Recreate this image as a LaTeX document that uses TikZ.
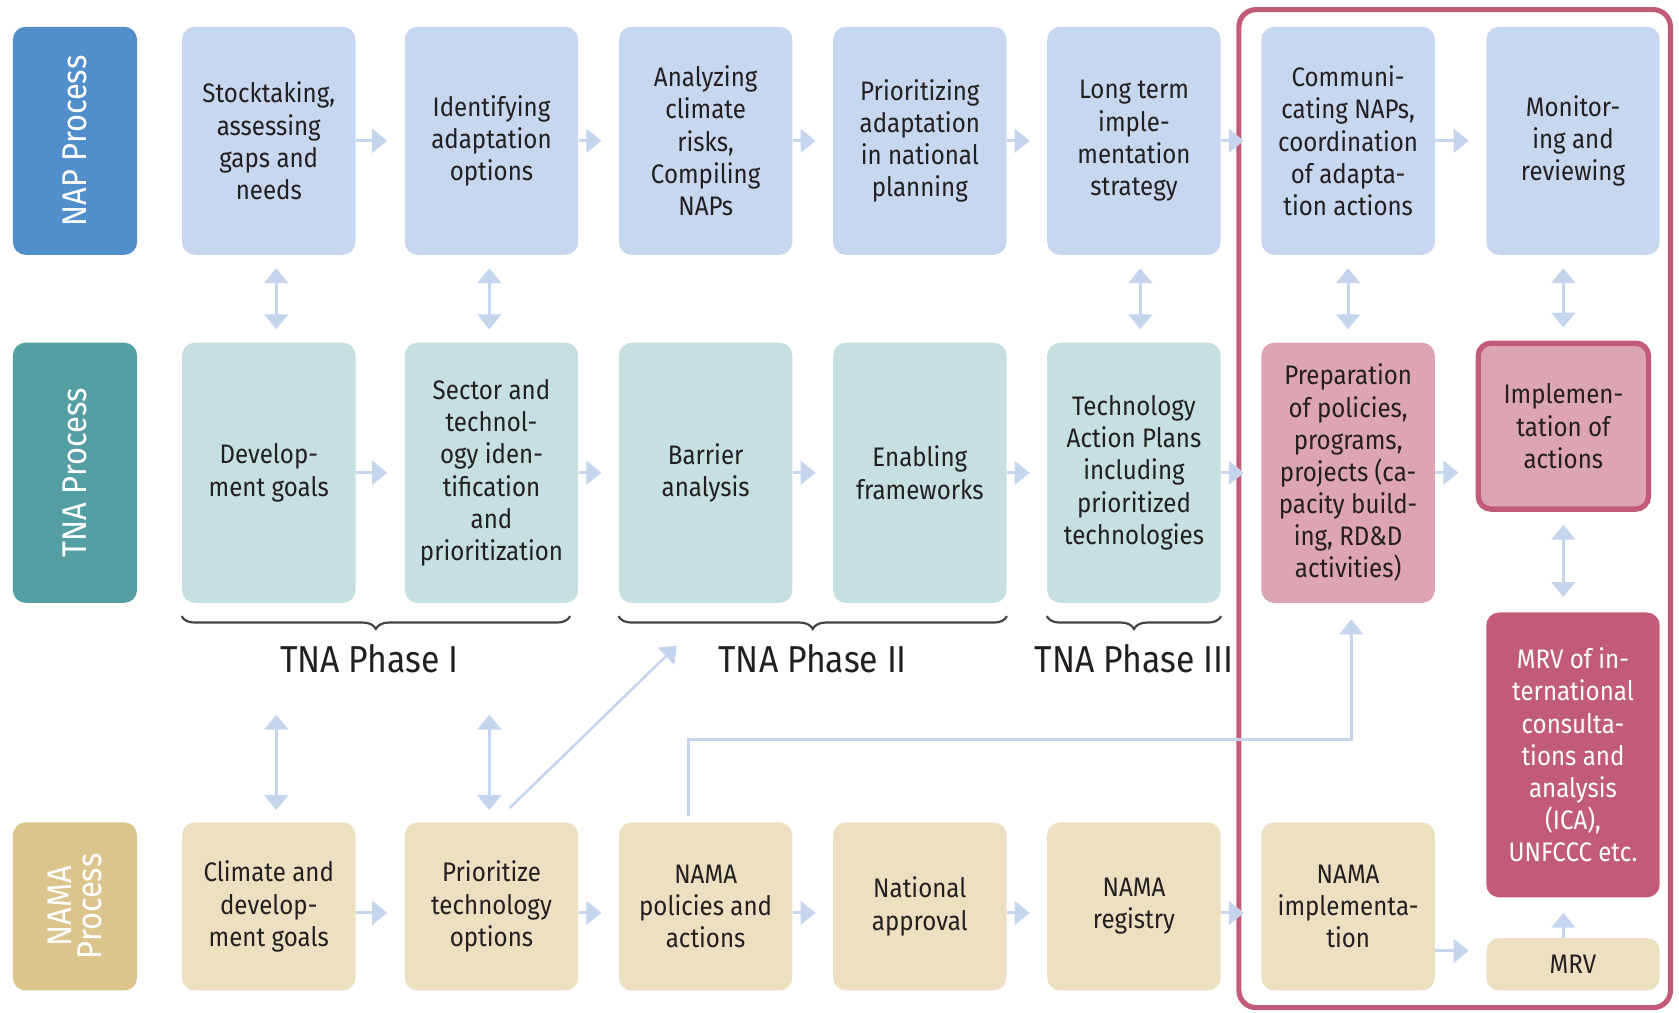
\documentclass[tikz,border=0pt]{standalone}
\usepackage{fontspec}
\setmainfont{Fira Sans}[FakeStretch=0.9]
\usetikzlibrary{arrows.meta,decorations.pathreplacing}

\definecolor{napblue}{RGB}{80,142,204}
\definecolor{naplight}{RGB}{199,215,239}
\definecolor{tnateal}{RGB}{84,159,163}
\definecolor{tnalight}{RGB}{198,223,224}
\definecolor{namatan}{RGB}{220,196,141}
\definecolor{namalight}{RGB}{237,224,193}
\definecolor{actpink}{RGB}{221,164,177}
\definecolor{actred}{RGB}{194,91,120}
\definecolor{flowblue}{RGB}{197,213,238}
\definecolor{txtdark}{RGB}{35,31,32}

\tikzset{
  stepbox/.style={rounded corners=6pt, minimum width=81pt, inner sep=0pt, align=center, text=txtdark, font=\fontsize{12.5}{15}\selectfont},
  naprow/.style={stepbox, fill=naplight, minimum height=106.5pt},
  tnarow/.style={stepbox, fill=tnalight, minimum height=121.5pt},
  namarow/.style={stepbox, fill=namalight, minimum height=78.5pt},
  procbox/.style={rounded corners=6pt, minimum width=58pt, inner sep=0pt},
  proctext/.style={rotate=90, text=white, align=center, font=\fontsize{16}{14}\selectfont},
  flow/.style={draw=flowblue, line width=1.5pt, -{Triangle[width=11pt,length=7pt]}},
  dflow/.style={draw=flowblue, line width=1.5pt, {Triangle[width=11pt,length=7pt]}-{Triangle[width=11pt,length=7pt]}},
  thinflow/.style={draw=flowblue, line width=1.2pt, -{Triangle[width=11pt,length=7pt]}},
  phasebrace/.style={draw=txtdark!85, line width=1pt, decorate, decoration={brace, mirror, amplitude=6pt}},
  phasetext/.style={text=txtdark, font=\fontsize{17.5}{20}\selectfont},
  actframe/.style={draw=actred, line width=2.4pt, rounded corners=8pt}
}

\begin{document}
\begin{tikzpicture}[x=0.5pt,y=0.5pt,yscale=-1,xscale=1]
\useasboundingbox (0,0) rectangle (1568,946);
% note: yscale=-1, so a positive yshift in a coordinate moves down

%Shape: process labels
\node[procbox, fill=napblue, minimum height=106.5pt] (nap) at (70,131.5) {};
\node[proctext] (naptext) at (nap) {NAP Process};
\node[procbox, fill=tnateal, minimum height=121.5pt] (tna) at (70,441.5) {};
\node[proctext] (tnatext) at (tna) {TNA Process};
\node[procbox, fill=namatan, minimum height=78.5pt] (nama) at (70,846.5) {};
\node[proctext] (namatext) at (nama) {NAMA\\Process};

%Shape: NAP row
\node[naprow] (nap1) at (251,131.5) {Stocktaking,\\assessing\\gaps and\\needs};
\node[naprow] (nap2) at (459,131.5) {Identifying\\adaptation\\options};
\node[naprow] (nap3) at (659,131.5) {Analyzing\\climate\\risks,\\Compiling\\NAPs};
\node[naprow] (nap4) at (859,131.5) {Prioritizing\\adaptation\\in national\\planning};
\node[naprow] (nap5) at (1059,131.5) {Long term\\imple-\\mentation\\strategy};
\node[naprow] (nap6) at (1259,131.5) {Communi-\\cating NAPs,\\coordination\\of adapta-\\tion actions};
\node[naprow] (nap7) at (1469,131.5) {Monitor-\\ing and\\reviewing};

%Shape: TNA row
\node[tnarow] (tna1) at (251,441.5) {Develop-\\ment goals};
\node[tnarow] (tna2) at (459,441.5) {Sector and\\technol-\\ogy iden-\\tification\\and\\prioritization};
\node[tnarow] (tna3) at (659,441.5) {Barrier\\analysis};
\node[tnarow] (tna4) at (859,441.5) {Enabling\\frameworks};
\node[tnarow] (tna5) at (1059,441.5) {Technology\\Action Plans\\including\\prioritized\\technologies};
\node[tnarow, fill=actpink] (prep) at (1259,441.5) {Preparation\\of policies,\\programs,\\projects (ca-\\pacity build-\\ing, RD\&D\\activities)};
\node[stepbox, fill=actpink, draw=actred, line width=2.5pt, minimum width=79.5pt, minimum height=77.5pt] (impl) at (1460,398) {Implemen-\\tation of\\actions};

%Shape: NAMA row
\node[namarow] (nama1) at (251,846.5) {Climate and\\develop-\\ment goals};
\node[namarow] (nama2) at (459,846.5) {Prioritize\\technology\\options};
\node[namarow] (nama3) at (659,846.5) {NAMA\\policies and\\actions};
\node[namarow] (nama4) at (859,846.5) {National\\approval};
\node[namarow] (nama5) at (1059,846.5) {NAMA\\registry};
\node[namarow] (nama6) at (1259,846.5) {NAMA\\implementa-\\tion};
\node[stepbox, fill=actred, text=white, minimum height=133pt] (mrvica) at (1469,705) {MRV of in-\\ternational\\consulta-\\tions and\\analysis\\(ICA),\\UNFCCC etc.};
\node[stepbox, fill=namalight, minimum height=24.5pt] (mrv) at (1469,900.5) {MRV};

%Shape: frame
\draw[actframe] (1157,9) rectangle (1560,941);

%Straight Lines: row flows
\foreach \a/\b in {nap1/nap2,nap2/nap3,nap3/nap4,nap4/nap5,nap5/nap6,nap6/nap7,
                   tna1/tna2,tna2/tna3,tna3/tna4,tna4/tna5,tna5/prep,prep/impl}
  \draw[flow] (\a.east) -- ([xshift=-8pt]\a.east -| \b.west);
\foreach \a/\b in {nama1/nama2,nama2/nama3,nama3/nama4,nama4/nama5,nama5/nama6}
  \draw[flow] ([yshift=3pt]\a.east) -- ([xshift=-8pt,yshift=3pt]\b.west);
\draw[flow] ([yshift=20.75pt]nama6.east) -- ([xshift=-8pt,yshift=-6.25pt]mrv.west);
\draw[flow] ([xshift=-4.5pt]mrv.north) -- ([xshift=-4.5pt,yshift=7pt]mrvica.south);

%Straight Lines: links between rows
\foreach \a/\b/\dx in {nap1/tna1/3.5pt,nap2/tna2/-1pt,nap5/tna5/3pt,nap6/prep/0pt}
  \draw[dflow] ([xshift=\dx,yshift=6pt]\a.south) -- ([xshift=\dx,yshift=-6pt]\b.north);
\draw[dflow] ([xshift=-4.5pt,yshift=6pt]nap7.south) -- ([yshift=-6pt]impl.north);
\draw[dflow] ([yshift=6pt]impl.south) -- ([xshift=-4.5pt,yshift=-7pt]mrvica.north);
\foreach \a/\b/\dx in {tna1/nama1/3.5pt,tna2/nama2/-1pt}
  \draw[dflow] ([xshift=\dx,yshift=52pt]\a.south) -- ([xshift=\dx,yshift=-5.5pt]\b.north);

\coordinate (phasetwo) at (632,603);
\draw[thinflow] ([xshift=8.5pt,yshift=-6.5pt]nama2.north) -- (phasetwo);
\draw[thinflow] ([xshift=-8pt,yshift=-3pt]nama3.north) -- ++(0,-71) -| ([xshift=1.5pt,yshift=7.5pt]prep.south);

%Braces and Text Nodes
\draw[phasebrace] ([yshift=6pt]tna1.south west) -- node[phasetext, midway, yshift=-20pt, xshift=-3pt] (phase1) {TNA Phase I} ([xshift=-4pt,yshift=6pt]tna2.south east);
\draw[phasebrace] ([yshift=6pt]tna3.south west) -- node[phasetext, midway, yshift=-20pt] (phase2) {TNA Phase II} ([yshift=6pt]tna4.south east);
\draw[phasebrace] ([yshift=6pt]tna5.south west) -- node[phasetext, midway, yshift=-20pt] (phase3) {TNA Phase III} ([yshift=6pt]tna5.south east);

\end{tikzpicture}
\end{document}
